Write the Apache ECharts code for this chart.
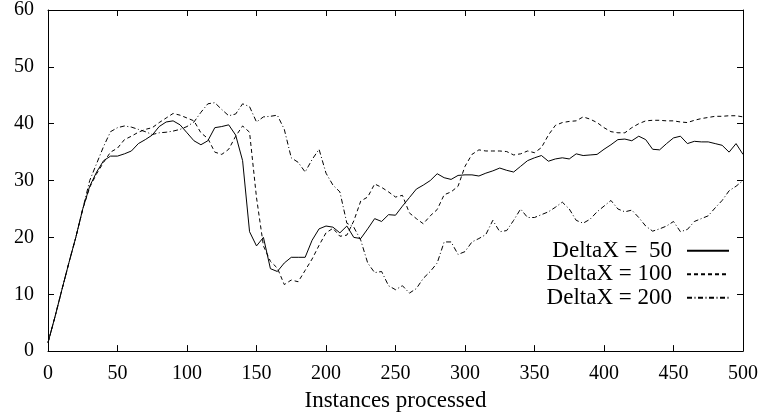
<!DOCTYPE html>
<html>
<head>
<meta charset="utf-8">
<script src="https://cdn.jsdelivr.net/npm/echarts@6/dist/echarts.min.js"></script>
<style>
  html, body { margin: 0; padding: 0; background: #fff; }
  #chart { width: 763px; height: 417px; }
</style>
</head>
<body>
<div id="chart"></div>
<script>
// Instances processed, sampled every 5 instances
const instances = [];
for (let i = 0; i <= 500; i += 5) instances.push(i);

const seriesNames = ['DeltaX =  50', 'DeltaX = 100', 'DeltaX = 200'];

const delta50 = [
  1.5, 6, 10.8, 15.5, 20, 25, 29, 31.5, 33.5, 34.3,
  34.3, 34.7, 35.2, 36.5, 37.2, 38, 39.5, 40.3, 40.5, 39.8,
  38.4, 37, 36.3, 37, 39.3, 39.5, 39.8, 38, 33.5, 21,
  18.5, 20, 14.5, 14, 15.5, 16.5, 16.5, 16.5, 19.5, 21.5,
  22, 21.8, 20.8, 22, 20, 19.8, 21.5, 23.3, 22.8, 24,
  23.9, 25.5, 27, 28.5, 29.2, 30, 31.2, 30.5, 30.2, 30.9,
  31, 31, 30.8, 31.3, 31.7, 32.2, 31.8, 31.5, 32.5, 33.5,
  34, 34.4, 33.4, 33.8, 34, 33.8, 34.7, 34.4, 34.5, 34.6,
  35.5, 36.3, 37.2, 37.3, 37, 37.8, 37.2, 35.5, 35.4, 36.5,
  37.5, 37.8, 36.5, 36.9, 36.8, 36.8, 36.5, 36.2, 35, 36.5,
  34.6
];

const delta100 = [
  1.5, 6, 10.8, 15.5, 20, 25, 28.8, 31.2, 33.2, 35,
  35.7, 37.2, 37.8, 38.5, 39, 39.3, 40.2, 41, 41.8, 41.5,
  41, 40.5, 38.4, 37.4, 35, 34.6, 35.5, 37.8, 39.6, 38.5,
  27, 18.5, 15.8, 14.6, 11.7, 12.5, 12.2, 14.2, 16.2, 18.6,
  20.8, 21.6, 20.2, 20.4, 22.9, 26.4, 27.1, 29.4, 28.8, 28,
  27.1, 27.4, 24.3, 23.3, 22.4, 23.8, 24.9, 27.5, 28, 29,
  32.5, 34.6, 35.4, 35.2, 35.2, 35.2, 35.1, 34.5, 34.7, 35.2,
  34.9, 35.8, 38, 39.7, 40.2, 40.4, 40.5, 41.2, 40.8, 40.2,
  39.3, 38.6, 38.4, 38.4, 39.3, 40, 40.5, 40.6, 40.6, 40.5,
  40.5, 40.3, 40.2, 40.6, 40.9, 41.1, 41.3, 41.3, 41.4, 41.4,
  41.2
];

const delta200 = [
  1.5, 6, 10.8, 15.5, 20, 25, 30, 33, 36, 38.6,
  39.3, 39.6, 39.4, 39, 38.6, 38.1, 38.4, 38.5, 38.7, 39,
  39.5, 40.3, 42, 43.5, 43.7, 42.5, 41.4, 41.7, 43.5, 43,
  40.3, 41.2, 41.3, 41.5, 39, 34, 33.2, 31.5, 33.7, 35.5,
  31.3, 29.2, 28, 22.5, 21.8, 19.5, 15.5, 13.8, 14, 11.5,
  10.8, 11.5, 10.2, 11, 12.8, 14, 15.5, 19.2, 19.2, 17,
  17.5, 19.2, 19.8, 20.5, 23, 21, 21.2, 23, 25, 23.5,
  23.5, 24, 24.5, 25.3, 26.2, 25, 23, 22.5, 23.2, 24.5,
  25.5, 26.5, 25, 24.5, 24.8, 23.5, 22, 21.1, 21.5, 22,
  22.8, 21, 21.4, 22.8, 23.3, 23.8, 25.2, 26.5, 28.2, 29,
  30
];

const xTicks = { min: 0, max: 500, interval: 50 };
const yTicks = { min: 0, max: 60, interval: 10 };

const FONT = '"Liberation Serif", "Times New Roman", serif';

function pairs(values) {
  return instances.map((x, i) => [x, values[i]]);
}

// Every side of the frame is an axis with inward ticks
function frameAxis(extra) {
  return Object.assign({
    type: 'value',
    axisLine: { show: true, onZero: false, lineStyle: { color: '#000', width: 1 } },
    axisTick: { show: true, inside: true, length: 6, lineStyle: { color: '#000', width: 1 } },
    splitLine: { show: false },
    axisLabel: { show: false }
  }, extra);
}

const labelStyle = { show: true, color: '#000', fontFamily: FONT, fontSize: 20 };

const chart = echarts.init(document.getElementById('chart'), null, { renderer: 'canvas' });

chart.setOption({
  animation: false,
  backgroundColor: '#fff',
  grid: { left: 48, right: 20, top: 10, bottom: 63, containLabel: false },
  xAxis: [
    frameAxis(Object.assign({
      position: 'bottom',
      axisLabel: Object.assign({ margin: 13 }, labelStyle),
      name: 'Instances processed',
      nameLocation: 'middle',
      nameGap: 35,
      nameTextStyle: { color: '#000', fontFamily: FONT, fontSize: 23 }
    }, xTicks)),
    frameAxis(Object.assign({ position: 'top' }, xTicks))
  ],
  yAxis: [
    frameAxis(Object.assign({
      position: 'left',
      axisLabel: Object.assign({ margin: 14 }, labelStyle)
    }, yTicks)),
    frameAxis(Object.assign({ position: 'right' }, yTicks))
  ],
  legend: {
    orient: 'vertical',
    align: 'right',
    right: 33,
    top: 239,
    padding: 0,
    itemGap: 0,
    itemWidth: 42,
    itemHeight: 14,
    itemStyle: { color: 'rgba(0,0,0,0)', borderWidth: 0, opacity: 0 },
    textStyle: { color: '#000', fontFamily: FONT, fontSize: 23, lineHeight: 23.5, padding: [0, 10, 0, 0] },
    data: seriesNames
  },
  series: [
    {
      name: seriesNames[0], type: 'line', symbol: 'none',
      lineStyle: { color: '#000', width: 1, type: 'solid' },
      itemStyle: { color: '#000' },
      data: pairs(delta50)
    },
    {
      name: seriesNames[1], type: 'line', symbol: 'none',
      lineStyle: { color: '#000', width: 1, type: [4, 3] },
      itemStyle: { color: '#000' },
      data: pairs(delta100)
    },
    {
      name: seriesNames[2], type: 'line', symbol: 'none',
      lineStyle: { color: '#000', width: 1, type: [5, 2.5, 1, 2.5] },
      itemStyle: { color: '#000' },
      data: pairs(delta200)
    }
  ]
});
</script>
</body>
</html>
